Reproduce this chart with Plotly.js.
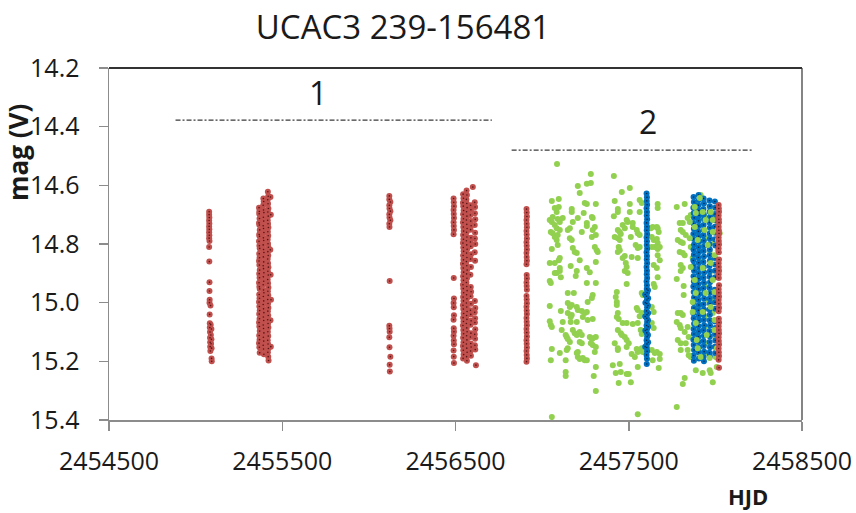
<!DOCTYPE html>
<html>
<head>
<meta charset="utf-8">
<script src="https://cdn.plot.ly/plotly-3.0.1.min.js"></script>
<style>
  html, body { margin: 0; padding: 0; background: #ffffff; }
  #chart { width: 856px; height: 513px; }
</style>
</head>
<body>
<div id="chart"></div>
<script>
// V-band light curve of UCAC3 239-156481: [HJD, mag] pairs per data source.

const starName = 'UCAC3 239-156481';
const xTickValues = [2454500, 2455500, 2456500, 2457500, 2458500];
const yTickValues = [14.2, 14.4, 14.6, 14.8, 15.0, 15.2, 15.4];

// Survey observations (dark red)
const redObs = [
  // 2009 season
  [2455078,14.690],[2455078,14.700],[2455079,14.710],[2455078,14.720],[2455079,14.730],[2455078,14.740],[2455079,14.750],[2455078,14.760],
  [2455079,14.770],[2455078,14.780],[2455080,14.790],[2455078,14.810],[2455079,14.860],[2455080,14.930],[2455080,14.960],[2455081,14.990],
  [2455080,15.000],[2455086,15.010],[2455081,15.040],[2455082,15.070],[2455087,15.075],[2455082,15.085],[2455091,15.090],[2455083,15.100],
  [2455088,15.110],[2455083,15.120],[2455091,15.125],[2455084,15.135],[2455089,15.140],[2455084,15.150],[2455092,15.155],[2455085,15.165],
  [2455092,15.190],[2455093,15.200],
  // 2010 season
  [2455366,14.676],[2455368,14.689],[2455367,14.697],[2455369,14.713],[2455366,14.728],[2455368,14.735],[2455370,14.752],[2455367,14.768],
  [2455369,14.774],[2455366,14.791],[2455368,14.806],[2455370,14.815],[2455367,14.833],[2455369,14.847],[2455366,14.858],[2455368,14.872],
  [2455370,14.889],[2455367,14.901],[2455369,14.915],[2455366,14.932],[2455368,14.946],[2455370,14.953],[2455367,14.972],[2455369,14.985],
  [2455366,14.998],[2455368,15.013],[2455370,15.027],[2455367,15.039],[2455369,15.055],[2455366,15.068],[2455368,15.081],[2455370,15.097],
  [2455367,15.112],[2455369,15.126],[2455366,15.138],[2455368,15.152],[2455370,15.171],
  [2455391,14.645],[2455393,14.655],[2455390,14.668],[2455392,14.684],[2455394,14.693],[2455391,14.709],[2455393,14.722],[2455390,14.738],
  [2455392,14.747],[2455394,14.761],[2455391,14.779],[2455393,14.788],[2455390,14.803],[2455392,14.819],[2455394,14.829],[2455391,14.844],
  [2455393,14.861],[2455390,14.874],[2455392,14.884],[2455394,14.898],[2455391,14.912],[2455393,14.927],[2455390,14.939],[2455392,14.957],
  [2455394,14.966],[2455391,14.979],[2455393,14.994],[2455390,15.006],[2455392,15.021],[2455394,15.034],[2455391,15.049],[2455393,15.061],
  [2455390,15.076],[2455392,15.088],[2455394,15.103],[2455391,15.118],[2455393,15.131],[2455390,15.145],[2455392,15.158],[2455394,15.176],
  [2455417,14.622],[2455419,14.637],[2455416,14.649],[2455418,14.663],[2455420,14.679],[2455417,14.691],[2455419,14.705],[2455416,14.719],
  [2455418,14.731],[2455420,14.744],[2455417,14.758],[2455419,14.772],[2455416,14.785],[2455418,14.799],[2455420,14.811],[2455417,14.826],
  [2455419,14.839],[2455416,14.851],[2455418,14.866],[2455420,14.879],[2455417,14.893],[2455419,14.906],[2455416,14.921],[2455418,14.934],
  [2455420,14.948],[2455417,14.961],[2455419,14.975],[2455416,14.989],[2455418,15.003],[2455420,15.017],[2455417,15.029],[2455419,15.044],
  [2455416,15.058],[2455418,15.071],[2455420,15.085],[2455417,15.099],[2455419,15.114],[2455416,15.128],[2455418,15.141],[2455420,15.156],
  [2455417,15.169],[2455419,15.184],[2455421,15.197],
  [2455432,14.640],[2455434,14.700],[2455431,14.820],[2455433,14.905],[2455435,14.990],[2455432,15.060],[2455434,15.150],
  // 2012 season
  [2456118,14.636],[2456118,14.648],[2456124,14.657],[2456118,14.668],[2456119,14.679],[2456124,14.688],[2456118,14.699],[2456119,14.710],
  [2456124,14.719],[2456118,14.731],[2456119,14.742],[2456120,14.926],[2456118,15.079],[2456119,15.088],[2456120,15.099],[2456118,15.118],
  [2456119,15.152],[2456124,15.184],[2456120,15.212],[2456121,15.235],
  // 2013 season
  [2456489,14.645],[2456490,14.658],[2456491,14.671],[2456489,14.684],[2456490,14.698],[2456491,14.711],[2456489,14.726],[2456490,14.739],
  [2456491,14.752],[2456489,14.767],[2456490,14.916],[2456491,14.986],[2456489,15.001],[2456490,15.016],[2456491,15.043],[2456489,15.058],
  [2456490,15.087],[2456491,15.099],[2456489,15.113],[2456490,15.129],[2456491,15.142],[2456489,15.163],[2456490,15.184],[2456491,15.206],
  [2456544,14.630],[2456546,14.644],[2456543,14.659],[2456545,14.671],[2456547,14.686],[2456544,14.699],[2456546,14.714],[2456543,14.727],
  [2456545,14.742],[2456547,14.756],[2456544,14.769],[2456546,14.784],[2456543,14.797],[2456545,14.812],[2456547,14.825],[2456544,14.839],
  [2456546,14.854],[2456543,14.867],[2456545,14.882],[2456547,14.896],[2456544,14.910],[2456546,14.924],[2456543,14.939],[2456545,14.952],
  [2456547,14.966],[2456544,14.981],[2456546,14.994],[2456543,15.009],[2456545,15.022],[2456547,15.037],[2456544,15.051],[2456546,15.064],
  [2456543,15.078],[2456545,15.093],[2456547,15.106],[2456544,15.120],[2456546,15.135],[2456543,15.148],[2456545,15.162],[2456547,15.177],
  [2456544,15.190],
  [2456564,14.618],[2456566,14.633],[2456563,14.648],[2456565,14.662],[2456567,14.676],[2456564,14.690],[2456566,14.705],[2456563,14.718],
  [2456565,14.733],[2456567,14.747],[2456564,14.760],[2456566,14.776],[2456563,14.789],[2456565,14.803],[2456567,14.818],[2456564,14.831],
  [2456566,14.846],[2456563,14.860],[2456565,14.874],[2456567,14.889],[2456564,14.902],[2456566,14.917],[2456563,14.931],[2456565,14.945],
  [2456567,14.959],[2456564,14.973],[2456566,14.987],[2456563,15.001],[2456565,15.015],[2456567,15.030],[2456564,15.044],[2456566,15.057],
  [2456563,15.071],[2456565,15.086],[2456567,15.099],[2456564,15.113],[2456566,15.127],[2456563,15.141],[2456565,15.155],[2456567,15.169],
  [2456564,15.184],[2456566,15.198],
  [2456587,14.668],[2456589,14.683],[2456586,14.701],[2456588,14.722],[2456590,14.738],[2456587,14.751],[2456589,14.779],[2456586,14.793],
  [2456588,14.808],[2456590,14.835],[2456587,14.851],[2456589,14.878],[2456586,14.905],[2456588,14.947],[2456590,14.963],[2456587,14.978],
  [2456589,15.004],[2456586,15.026],[2456588,15.040],[2456590,15.062],[2456587,15.075],[2456589,15.104],[2456586,15.117],[2456588,15.139],
  [2456590,15.151],[2456587,15.165],[2456589,15.181],
  [2456611,14.658],[2456613,14.674],[2456612,14.695],[2456614,14.716],[2456611,14.735],[2456613,14.762],[2456612,14.781],[2456614,14.800],
  [2456611,14.828],[2456613,14.857],[2456612,14.994],[2456614,15.018],[2456611,15.033],[2456613,15.053],[2456612,15.068],[2456614,15.091],
  [2456611,15.108],[2456613,15.123],[2456612,15.145],[2456614,15.160],
  [2456600,14.606],[2456618,15.213],
  // 2014 season
  [2456910,14.681],[2456911,14.693],[2456912,14.706],[2456910,14.718],[2456911,14.731],[2456912,14.743],[2456910,14.756],[2456911,14.768],
  [2456912,14.781],[2456910,14.794],[2456911,14.806],[2456912,14.819],[2456910,14.831],[2456911,14.844],[2456912,14.857],[2456910,14.869],
  [2456911,14.906],[2456912,14.918],[2456910,14.931],[2456911,14.943],[2456912,14.956],[2456910,14.977],[2456911,14.989],[2456912,15.002],
  [2456910,15.014],[2456911,15.027],[2456912,15.039],[2456910,15.052],[2456911,15.065],[2456912,15.077],[2456910,15.090],[2456911,15.102],
  [2456912,15.115],[2456910,15.128],[2456911,15.140],[2456912,15.153],[2456910,15.165],[2456911,15.178],[2456912,15.190],[2456910,15.201],
  // 2017 season
  [2458019,14.667],[2458020,14.679],[2458021,14.690],[2458019,14.703],[2458020,14.716],[2458021,14.727],[2458019,14.741],[2458020,14.753],
  [2458021,14.764],[2458019,14.778],[2458020,14.790],[2458021,14.802],[2458019,14.815],[2458020,14.828],[2458021,14.853],[2458019,14.866],
  [2458020,14.878],[2458021,14.891],[2458019,14.903],[2458020,14.916],[2458021,14.941],[2458019,14.954],[2458020,14.966],[2458021,14.979],
  [2458019,14.991],[2458020,15.004],[2458021,15.017],[2458019,15.029],[2458020,15.055],[2458021,15.068],[2458019,15.080],[2458020,15.093],
  [2458021,15.105],[2458019,15.118],[2458020,15.131],[2458021,15.143],[2458019,15.156],[2458020,15.169],[2458021,15.182],[2458019,15.195],
  [2458021,15.222]
];

// Observer photometry (blue)
const blueObs = [
  [2457603,14.628],[2457605,14.641],[2457604,14.653],[2457606,14.666],[2457603,14.678],[2457605,14.691],[2457604,14.703],[2457606,14.716],
  [2457603,14.728],[2457605,14.741],[2457604,14.753],[2457606,14.766],[2457603,14.778],[2457605,14.791],[2457604,14.803],[2457606,14.816],
  [2457603,14.828],[2457605,14.841],[2457604,14.853],[2457606,14.866],[2457603,14.878],[2457605,14.891],[2457604,14.903],[2457606,14.916],
  [2457603,14.928],[2457605,14.941],[2457604,14.953],[2457606,14.966],[2457603,14.978],[2457605,14.991],[2457604,15.003],[2457606,15.016],
  [2457603,15.028],[2457605,15.041],[2457604,15.053],[2457606,15.066],[2457603,15.078],[2457605,15.091],[2457604,15.103],[2457606,15.116],
  [2457603,15.128],[2457605,15.141],[2457604,15.153],[2457606,15.166],[2457603,15.178],[2457605,15.191],[2457604,15.209],
  [2457611,14.958],[2457612,14.985],[2457611,15.010],[2457612,15.035],[2457611,15.060],[2457612,15.082],[2457611,15.110],[2457612,15.135],
  [2457595,14.972],[2457596,15.000],[2457595,15.047],[2457596,15.095],[2457595,15.150],
  [2457874,14.640],[2457876,14.657],[2457873,14.676],[2457875,14.694],[2457877,14.711],[2457874,14.730],[2457876,14.748],[2457873,14.766],
  [2457875,14.783],[2457877,14.802],[2457874,14.820],[2457876,14.837],[2457873,14.856],[2457875,14.874],[2457877,14.891],[2457874,14.910],
  [2457876,14.928],[2457873,14.945],[2457875,14.964],[2457877,14.982],[2457874,14.999],[2457876,15.018],[2457873,15.036],[2457875,15.053],
  [2457877,15.072],[2457874,15.090],[2457876,15.107],[2457873,15.126],[2457875,15.144],[2457877,15.161],[2457874,15.180],[2457876,15.198],
  [2457903,14.633],[2457905,14.650],[2457902,14.668],[2457904,14.686],[2457906,14.703],[2457903,14.721],[2457905,14.739],[2457902,14.757],
  [2457904,14.774],[2457906,14.792],[2457903,14.811],[2457905,14.828],[2457902,14.846],[2457904,14.864],[2457906,14.882],[2457903,14.900],
  [2457905,14.918],[2457902,14.936],[2457904,14.953],[2457906,14.971],[2457903,14.990],[2457905,15.008],[2457902,15.026],[2457904,15.044],
  [2457906,15.061],[2457903,15.080],[2457905,15.098],[2457902,15.116],[2457904,15.134],[2457906,15.152],[2457903,15.170],[2457905,15.190],
  [2457932,14.645],[2457934,14.662],[2457931,14.681],[2457933,14.699],[2457935,14.716],[2457932,14.735],[2457934,14.753],[2457931,14.770],
  [2457933,14.789],[2457935,14.807],[2457932,14.824],[2457934,14.843],[2457931,14.861],[2457933,14.878],[2457935,14.897],[2457932,14.915],
  [2457934,14.932],[2457931,14.951],[2457933,14.969],[2457935,14.986],[2457932,15.005],[2457934,15.023],[2457931,15.040],[2457933,15.059],
  [2457935,15.077],[2457932,15.094],[2457934,15.113],[2457931,15.131],[2457933,15.148],[2457935,15.167],[2457932,15.185],[2457934,15.200],
  [2457966,14.652],[2457968,14.671],[2457967,14.690],[2457969,14.708],[2457966,14.727],[2457968,14.745],[2457967,14.764],[2457969,14.782],
  [2457966,14.801],[2457968,14.819],[2457967,14.838],[2457969,14.856],[2457966,14.875],[2457968,14.893],[2457967,14.912],[2457969,14.930],
  [2457966,14.949],[2457968,14.967],[2457967,14.986],[2457969,15.004],[2457966,15.023],[2457968,15.041],[2457967,15.060],[2457969,15.078],
  [2457966,15.097],[2457968,15.115],[2457967,15.134],[2457969,15.152],[2457966,15.171],[2457968,15.183],
  [2457997,14.655],[2457999,14.676],[2457998,14.698],[2458000,14.719],[2457997,14.741],[2457999,14.762],[2457998,14.784],[2458000,14.805],
  [2457997,14.848],[2457999,14.870],[2457998,14.891],[2458000,14.913],[2457997,14.956],[2457999,14.978],[2457998,14.999],[2458000,15.021],
  [2457997,15.064],[2457999,15.086],[2457998,15.107],[2458000,15.129],[2457997,15.150],[2457999,15.172]
];

// Observer photometry (green)
const greenObs = [
  [2457086,14.527],[2457281,14.561],[2457206,14.602],[2457258,14.595],[2457281,14.592],[2457217,14.626],[2457056,14.653],[2457096,14.647],[2457246,14.660],[2457258,14.664],
  [2457310,14.664],[2457073,14.677],[2457084,14.691],[2457096,14.674],[2457171,14.681],[2457171,14.691],[2457240,14.694],[2457206,14.711],[2457177,14.725],[2457287,14.708],
  [2457292,14.711],[2457044,14.718],[2457056,14.725],[2457061,14.708],[2457073,14.735],[2457090,14.715],[2457102,14.725],[2457119,14.711],[2457084,14.746],[2457102,14.752],
  [2457160,14.746],[2457148,14.752],[2457258,14.728],[2457258,14.739],[2457229,14.759],[2457304,14.742],[2457292,14.752],[2457050,14.759],[2457061,14.763],[2457073,14.776],
  [2457090,14.769],[2457084,14.786],[2457090,14.803],[2457160,14.780],[2457171,14.786],[2457287,14.776],[2457310,14.769],[2457304,14.810],[2457315,14.821],[2457321,14.827],
  [2457056,14.817],[2457177,14.814],[2457188,14.827],[2457200,14.831],[2457102,14.848],[2457096,14.855],[2457217,14.855],[2457310,14.861],[2457044,14.865],[2457073,14.865],
  [2457165,14.875],[2457102,14.882],[2457102,14.892],[2457258,14.882],[2457073,14.899],[2457084,14.899],[2457200,14.892],[2457194,14.909],[2457275,14.896],[2457108,14.913],
  [2457044,14.926],[2457050,14.933],[2457258,14.933],[2457310,14.933],[2457148,14.967],[2457183,14.967],[2457292,14.974],[2457287,14.984],[2457148,15.001],[2457160,15.015],
  [2457171,15.008],[2457044,15.011],[2457108,15.028],[2457200,15.015],[2457206,15.025],[2457263,14.998],[2457258,15.032],[2457148,15.035],[2457171,15.042],[2457165,15.049],
  [2457229,15.028],[2457246,15.035],[2457235,15.049],[2457263,15.059],[2457292,15.056],[2457044,15.063],[2457050,15.076],[2457056,15.083],[2457119,15.066],[2457165,15.066],
  [2457200,15.066],[2457113,15.093],[2457136,15.110],[2457142,15.117],[2457177,15.093],[2457188,15.104],[2457200,15.110],[2457217,15.100],[2457229,15.110],[2457148,15.124],
  [2457160,15.134],[2457275,15.117],[2457287,15.124],[2457292,15.121],[2457310,15.117],[2457217,15.134],[2457229,15.138],[2457281,15.138],[2457292,15.144],[2457310,15.151],
  [2457056,15.158],[2457148,15.155],[2457142,15.161],[2457102,15.172],[2457206,15.168],[2457200,15.172],[2457304,15.168],[2457206,15.185],[2457217,15.192],[2457235,15.189],
  [2457246,15.196],[2457258,15.196],[2457050,15.196],[2457136,15.196],[2457310,15.219],[2457136,15.236],[2457136,15.250],[2457298,15.250],[2457310,15.301],[2457056,15.390],
  [2457414,14.568],[2457460,14.623],[2457506,14.609],[2457419,14.653],[2457506,14.664],[2457563,14.650],[2457575,14.660],[2457437,14.681],[2457437,14.691],[2457506,14.691],
  [2457563,14.691],[2457414,14.705],[2457667,14.664],[2457667,14.677],[2457488,14.718],[2457494,14.725],[2457465,14.735],[2457477,14.746],[2457523,14.728],[2457523,14.742],
  [2457437,14.752],[2457448,14.759],[2457454,14.766],[2457546,14.752],[2457552,14.763],[2457563,14.769],[2457627,14.746],[2457638,14.742],[2457662,14.742],[2457667,14.746],
  [2457673,14.759],[2457419,14.776],[2457437,14.780],[2457448,14.786],[2457512,14.776],[2457633,14.776],[2457644,14.786],[2457662,14.783],[2457667,14.797],[2457442,14.810],
  [2457448,14.821],[2457437,14.827],[2457540,14.803],[2457552,14.814],[2457563,14.810],[2457633,14.810],[2457650,14.810],[2457667,14.817],[2457679,14.810],[2457477,14.841],
  [2457465,14.848],[2457517,14.844],[2457552,14.848],[2457667,14.838],[2457679,14.855],[2457483,14.865],[2457488,14.878],[2457477,14.892],[2457494,14.899],[2457644,14.872],
  [2457662,14.882],[2457667,14.913],[2457488,14.936],[2457431,14.964],[2457425,14.981],[2457431,14.998],[2457431,15.008],[2457575,14.967],[2457581,14.974],[2457644,14.936],
  [2457650,14.947],[2457546,15.018],[2457552,15.025],[2457575,15.035],[2457563,15.046],[2457437,15.035],[2457431,15.049],[2457442,15.056],[2457633,15.015],[2457644,15.032],
  [2457465,15.069],[2457488,15.069],[2457523,15.073],[2457437,15.093],[2457454,15.104],[2457460,15.110],[2457477,15.117],[2457488,15.127],[2457500,15.138],[2457488,15.151],
  [2457552,15.069],[2457569,15.093],[2457575,15.107],[2457633,15.069],[2457644,15.086],[2457419,15.138],[2457437,15.155],[2457437,15.161],[2457546,15.158],[2457552,15.168],
  [2457563,15.161],[2457575,15.155],[2457581,15.168],[2457633,15.161],[2457650,15.172],[2457662,15.168],[2457517,15.175],[2457535,15.185],[2457679,15.175],[2457679,15.192],
  [2457638,15.196],[2457408,15.213],[2457448,15.209],[2457552,15.219],[2457425,15.240],[2457454,15.236],[2457488,15.243],[2457500,15.243],[2457512,15.271],[2457442,15.274],
  [2457673,15.223],[2457552,15.380],
  [2457777,14.674],[2457823,14.664],[2457881,14.660],[2457881,14.674],[2457915,14.633],[2457910,14.643],[2457794,14.728],[2457812,14.728],[2457800,14.752],[2457812,14.759],
  [2457840,14.711],[2457852,14.725],[2457858,14.701],[2457887,14.694],[2457910,14.708],[2457927,14.691],[2457938,14.708],[2457944,14.718],[2457967,14.674],[2457973,14.691],
  [2457996,14.708],[2457985,14.718],[2458014,14.728],[2458014,14.752],[2458025,14.763],[2458014,14.786],[2458014,14.821],[2457783,14.786],[2457800,14.793],[2457812,14.797],
  [2457829,14.769],[2457852,14.780],[2457858,14.810],[2457881,14.742],[2457887,14.763],[2457898,14.786],[2457910,14.810],[2457938,14.752],[2457944,14.780],[2457956,14.803],
  [2457967,14.827],[2457985,14.759],[2457996,14.797],[2457996,14.838],[2457794,14.827],[2457812,14.831],[2457823,14.838],[2457800,14.872],[2457812,14.882],[2457800,14.892],
  [2457869,14.848],[2457858,14.878],[2457915,14.855],[2457927,14.882],[2457915,14.913],[2457973,14.865],[2457967,14.899],[2457985,14.923],[2457777,14.919],[2457817,14.943],
  [2457817,14.974],[2457881,14.923],[2457887,14.947],[2457887,14.967],[2457938,14.940],[2457944,14.967],[2457956,14.991],[2457996,14.964],[2457985,14.991],[2457869,14.998],
  [2457881,15.015],[2457869,15.032],[2457915,15.008],[2457927,15.032],[2457938,15.049],[2457973,15.015],[2457985,15.035],[2457996,15.059],[2457783,15.035],[2457800,15.035],
  [2457812,15.042],[2457777,15.066],[2457794,15.076],[2457800,15.086],[2457823,15.100],[2457840,15.083],[2457846,15.117],[2457887,15.069],[2457898,15.100],[2457892,15.127],
  [2457938,15.083],[2457950,15.110],[2457956,15.138],[2457996,15.093],[2458002,15.121],[2458008,15.155],[2457783,15.127],[2457800,15.138],[2457800,15.161],[2457829,15.138],
  [2457840,15.161],[2457846,15.179],[2457858,15.185],[2457898,15.155],[2457910,15.172],[2457915,15.185],[2457956,15.172],[2457967,15.189],[2458002,15.185],[2458014,15.189],
  [2457887,15.230],[2457927,15.240],[2457967,15.230],[2457973,15.240],[2458008,15.219],[2457823,15.257],[2457812,15.277],[2457985,15.271],[2457777,15.356]
];

// Interval markers drawn above the data
const intervalLabels = ['1', '2'];
const intervalStart = [2454884, 2456824];
const intervalEnd = [2456710, 2458210];
const intervalMag = [14.378, 14.480];
const labelHjd = [2455704, 2457610];
const labelMag = [14.282, 14.381];

const hjd = obs => obs.map(p => p[0]);
const mag = obs => obs.map(p => p[1]);

function dottedSeries(obs, fill, dot) {
  return [
    {
      type: 'scatter', mode: 'markers', x: hjd(obs), y: mag(obs), hoverinfo: 'skip',
      marker: { size: 6, color: fill, line: { width: 0 } }
    },
    {
      type: 'scatter', mode: 'markers', x: hjd(obs), y: mag(obs), hoverinfo: 'skip',
      marker: { size: 1.6, color: dot, line: { width: 0 } }
    }
  ];
}

function greenLayer(obs) {
  return {
    type: 'scatter', mode: 'markers', x: hjd(obs), y: mag(obs), hoverinfo: 'skip',
    marker: { size: 6, color: 'rgb(146,208,80)', line: { width: 0 } }
  };
}

// In the 2017 season the green and blue points interleave: every other
// green point is drawn above the blue block, the rest below it.
const greenUnder = greenObs.filter((p, i) => p[0] < 2457750 || i % 2 === 0);
const greenOver = greenObs.filter((p, i) => p[0] >= 2457750 && i % 2 === 1);

const traces = [
  greenLayer(greenUnder),
  ...dottedSeries(blueObs, 'rgb(0,112,192)', 'rgb(8,40,80)'),
  greenLayer(greenOver),
  ...dottedSeries(redObs, 'rgb(192,80,77)', 'rgb(90,20,20)')
];

const baseFont = { family: '"Open Sans", "DejaVu Sans", sans-serif', color: '#1a1a1a' };

const shapes = intervalLabels.map((_, i) => ({
  type: 'line', xref: 'x', yref: 'y',
  x0: intervalStart[i], x1: intervalEnd[i], y0: intervalMag[i], y1: intervalMag[i],
  line: { color: '#3a3a3a', width: 1.3, dash: '5px,2px,2px,2px' }
}));
// dark frame on the top and right edges of the plot area
shapes.push(
  { type: 'line', xref: 'paper', yref: 'paper', x0: 0, x1: 1, y0: 1, y1: 1, line: { color: '#333333', width: 1.8 } },
  { type: 'line', xref: 'paper', yref: 'paper', x0: 1, x1: 1, y0: 0, y1: 1, line: { color: '#333333', width: 1.2 } }
);

const annotations = intervalLabels.map((t, i) => ({
  text: t, xref: 'x', yref: 'y', x: labelHjd[i], y: labelMag[i],
  showarrow: false, xanchor: 'center', yanchor: 'middle',
  font: Object.assign({}, baseFont, { size: 32 })
}));
annotations.push(
  {
    text: '<b>mag (V)</b>', xref: 'paper', yref: 'paper', textangle: -90,
    x: (18 - 109) / 693, y: (420 - 152) / 352, xanchor: 'center', yanchor: 'middle',
    showarrow: false, font: Object.assign({}, baseFont, { size: 26 })
  },
  {
    text: '<b>HJD</b>', xref: 'paper', yref: 'paper',
    x: (748 - 109) / 693, y: -(496 - 420) / 352, xanchor: 'center', yanchor: 'middle',
    showarrow: false, font: Object.assign({}, baseFont, { size: 22 })
  }
);

const layout = {
  width: 856, height: 513,
  margin: { l: 109, r: 54, t: 68, b: 93, pad: 0 },
  paper_bgcolor: '#ffffff', plot_bgcolor: '#ffffff',
  showlegend: false,
  title: {
    text: starName, xref: 'container', yref: 'container',
    x: 403 / 856, xanchor: 'center', y: 1 - 27 / 513, yanchor: 'middle',
    font: Object.assign({}, baseFont, { size: 33 })
  },
  xaxis: {
    range: [2454500, 2458500], tickmode: 'array', tickvals: xTickValues,
    ticktext: xTickValues.map(v => String(v)),
    ticks: 'outside', ticklen: 9, tickwidth: 1.5, tickcolor: '#8c8c8c',
    showline: true, linecolor: '#8c8c8c', linewidth: 1.5,
    showgrid: false, zeroline: false, automargin: false,
    ticklabelstandoff: 9,
    tickfont: Object.assign({}, baseFont, { size: 25 })
  },
  yaxis: {
    range: [15.4, 14.2], tickmode: 'array', tickvals: yTickValues,
    ticktext: yTickValues.map(v => v.toFixed(1)),
    ticks: 'outside', ticklen: 9, tickwidth: 1.5, tickcolor: '#8c8c8c',
    showline: true, linecolor: '#8c8c8c', linewidth: 1.5,
    showgrid: false, zeroline: false, automargin: false,
    ticklabelstandoff: 14,
    tickfont: Object.assign({}, baseFont, { size: 25 })
  },
  shapes: shapes,
  annotations: annotations
};

Plotly.newPlot('chart', traces, layout, { displayModeBar: false, staticPlot: true });
</script>
</body>
</html>
